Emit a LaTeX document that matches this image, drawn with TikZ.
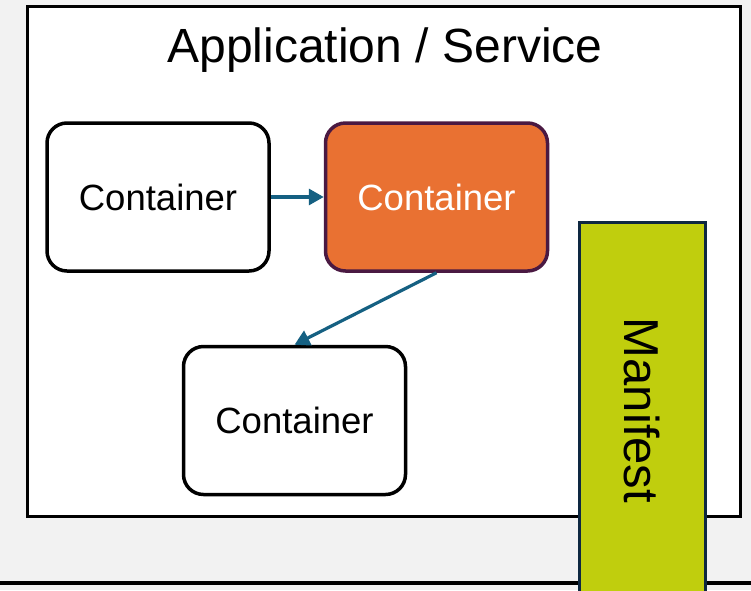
\documentclass[tikz,border=0pt]{standalone}
\usepackage{fontspec}
\setmainfont{Liberation Sans}
\usetikzlibrary{arrows.meta}

\definecolor{pageGray}{HTML}{F2F2F2}
\definecolor{linkTeal}{HTML}{156082}
\definecolor{hotOrange}{HTML}{E97132}
\definecolor{hotBorder}{HTML}{4A1942}
\definecolor{manifestFill}{HTML}{C0CE0D}
\definecolor{manifestBorder}{HTML}{0E2841}

\tikzset{
  frame/.style={draw=black, line width=3.5pt, fill=white},
  containerbox/.style={draw=black, fill=white, line width=3.5pt, rounded corners=20pt,
    minimum width=222pt, minimum height=148pt, inner sep=0pt,
    font=\fontsize{36.5}{44}\selectfont},
  hotbox/.style={containerbox, draw=hotBorder, fill=hotOrange, text=white},
  link/.style={draw=linkTeal, line width=3.2pt, -{Triangle[length=15pt,width=16pt]}},
  manifestbar/.style={draw=manifestBorder, fill=manifestFill, line width=3.5pt,
    rotate=-90, minimum width=376pt, minimum height=126pt, inner sep=0pt,
    font=\fontsize{49}{56}\selectfont}
}

\begin{document}
\begin{tikzpicture}[x=1pt, y=-1pt]
  \useasboundingbox (0,0) rectangle (751,590);
  \fill[pageGray] (0,0) rectangle (751,590);

  % application frame and its title
  \draw[frame] (27.5,6.5) rectangle (740.5,516.5);
  \node[anchor=base, inner sep=0pt, font=\fontsize{48}{56}\selectfont] (title) at (385,62) {Application / Service};

  % containers
  \node[containerbox] (c1) at (158,197) {Container};
  \node[hotbox] (c2) at (436.5,197) {Container};
  \node[containerbox] (c3) at (294.5,420.5) {Container};

  \draw[link] (c1.east) -- (c2.west);
  \draw[link] (c2.south) -- (c3.north);

  % ground line
  \draw[line width=4pt] (0,583) -- (751,583);

  % manifest bar, running off the bottom edge
  \node[manifestbar] (manifest) at (642.5,410.5) {Manifest};
\end{tikzpicture}
\end{document}
